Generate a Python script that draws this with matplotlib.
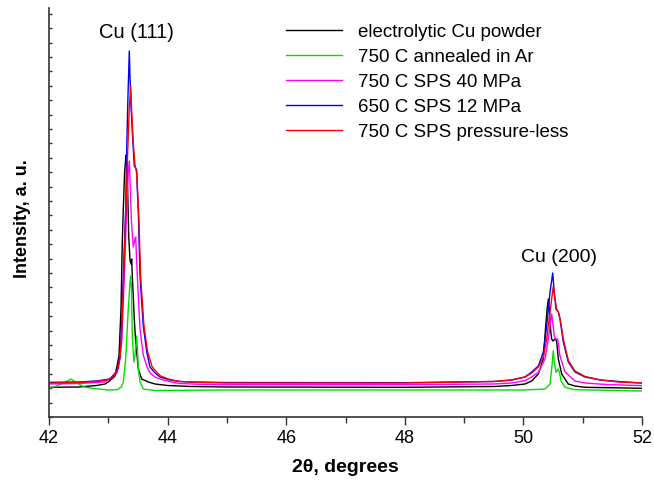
import matplotlib
matplotlib.use("Agg")
import matplotlib.pyplot as plt
from matplotlib.ticker import MultipleLocator, NullFormatter

plt.rcParams['font.family'] = ['Liberation Sans', 'DejaVu Sans']

# XRD patterns: 2-theta (degrees) and intensity (a.u.)
black_x = [42.0, 42.5, 42.8, 42.944, 43.0, 43.113, 43.18, 43.214, 43.236, 43.253,
           43.275, 43.298, 43.31, 43.327, 43.345, 43.366, 43.383, 43.395, 43.405,
           43.422, 43.438, 43.462, 43.479, 43.506, 43.563, 43.675, 43.788, 44.0,
           44.4, 45.0, 48.0, 49.5, 49.8, 50.027, 50.14, 50.251, 50.336, 50.376,
           50.40, 50.42, 50.44, 50.462, 50.477, 50.50, 50.533, 50.55, 50.562,
           50.589, 50.646, 50.757, 50.87, 51.039, 52.0]
black_y = [29.7, 30, 31.5, 33, 35, 41, 61, 108, 175, 208,
           245, 262, 255, 225, 180, 157, 153, 158, 140,
           120, 98, 75, 65, 48, 38, 35, 33, 31.5,
           30.5, 30, 29.7, 30.5, 31.5, 33, 36, 43, 58, 91,
           108, 118, 105, 85, 78, 76, 78, 77, 75,
           58, 43, 33, 31, 29.7, 28.7]

green_x = [42.0, 42.1, 42.25, 42.37, 42.5, 42.6, 42.75, 43.0, 43.15, 43.22,
           43.253, 43.293, 43.337, 43.366, 43.378, 43.39, 43.405, 43.43, 43.45,
           43.479, 43.49, 43.506, 43.535, 43.59, 43.788, 45.0, 48.0, 50.0,
           50.364, 50.449, 50.477, 50.504, 50.52, 50.55, 50.589, 50.61, 50.634,
           50.702, 50.87, 52.0]
green_y = [29, 30.5, 34, 38, 33, 30, 28.5, 27, 27.3, 30,
           35, 58, 108, 135, 141, 130, 81, 55, 62,
           81, 70, 48, 35, 28, 26.5, 27, 27, 27,
           28, 33, 48, 66.3, 55, 44.7, 48, 44, 36,
           29.7, 27.3, 26]

magenta_x = [42.0, 42.5, 42.8, 42.944, 43.057, 43.169, 43.226, 43.27, 43.31, 43.337,
             43.354, 43.37, 43.39, 43.422, 43.45, 43.462, 43.475, 43.506, 43.535,
             43.59, 43.648, 43.703, 43.788, 43.872, 44.04, 44.2, 44.5, 45.0, 48.0,
             49.5, 49.8, 50.027, 50.14, 50.251, 50.364, 50.42, 50.477, 50.50,
             50.521, 50.545, 50.578, 50.617, 50.702, 50.87, 51.039, 51.4, 52.0]
magenta_y = [33, 33.5, 34.5, 35, 40, 48, 75, 141, 208, 245,
             256, 230, 195, 170, 178, 180, 160, 121, 88,
             62, 51, 44, 40, 38, 35.3, 33.5, 32.8, 32.3, 32.3,
             33, 34, 36.3, 40, 44.7, 58, 78, 103, 92,
             81, 78, 78, 61, 45, 36, 34, 32.5, 31.3]

blue_x = [42.0, 42.5, 42.8, 43.029, 43.142, 43.197, 43.226, 43.253, 43.293, 43.31,
          43.327, 43.354, 43.366, 43.383, 43.41, 43.438, 43.462, 43.479, 43.489,
          43.506, 43.535, 43.59, 43.648, 43.703, 43.788, 43.872, 44.04, 44.209,
          44.378, 45.0, 48.0, 49.5, 49.8, 50.027, 50.14, 50.251, 50.336, 50.393,
          50.449, 50.494, 50.52, 50.55, 50.589, 50.617, 50.673, 50.757, 50.87,
          51.039, 51.3, 51.6, 52.0]
blue_y = [34.7, 35, 36, 38, 45, 61, 91, 141, 208, 265,
          311, 366, 340, 311, 280, 251, 249, 247, 228,
          205, 141, 91, 65, 50, 44, 40, 37, 35.5,
          35, 34.5, 34.3, 35.5, 37, 40, 45, 51, 65, 91,
          124.7, 144, 125, 108, 105, 98, 75, 55, 45,
          40, 37, 35.5, 34]

red_x = [42.0, 42.5, 42.8, 43.029, 43.142, 43.197, 43.226, 43.253, 43.293, 43.327,
         43.354, 43.378, 43.395, 43.42, 43.45, 43.475, 43.495, 43.515, 43.545,
         43.6, 43.66, 43.74, 43.8, 43.88, 44.04, 44.21, 44.38, 45.0, 48.0,
         49.5, 49.8, 50.027, 50.14, 50.251, 50.336, 50.393, 50.449, 50.504,
         50.533, 50.56, 50.589, 50.62, 50.68, 50.76, 50.87, 51.04, 51.3, 51.6, 52.0]
red_y = [34, 34.5, 35.5, 37.5, 44, 58, 85, 130, 200, 265,
         310, 331, 305, 275, 252, 245, 225, 200, 141,
         92, 66, 50, 46, 41, 37.5, 35.5, 35, 34, 34,
         35.5, 37, 40, 44, 50, 60, 78, 105, 131,
         118, 108, 105, 98, 76, 56, 46, 40.5, 37, 35, 34]

labels = ["electrolytic Cu powder", "750 C annealed in Ar", "750 C SPS 40 MPa",
          "650 C SPS 12 MPa", "750 C SPS pressure-less"]
colors = ["black", "#00e000", "#ff00ff", "#0000ff", "#ff0000"]

fig = plt.figure(figsize=(6.54, 4.81), dpi=100)
ax = fig.add_axes([49 / 654, 63 / 481, 593 / 654, 409.5 / 481])

series = [(black_x, black_y), (green_x, green_y), (magenta_x, magenta_y),
          (blue_x, blue_y), (red_x, red_y)]
for (xs, ys), lab, col in zip(series, labels, colors):
    ax.plot(xs, ys, color=col, lw=1.0, label=lab)

ax.set_xlim(42, 52)
ax.set_ylim(0, 409.5)

ax.spines['top'].set_visible(False)
ax.spines['right'].set_visible(False)
for s in ['left', 'bottom']:
    ax.spines[s].set_color('#333333')
    ax.spines[s].set_linewidth(1.2)

ax.xaxis.set_major_locator(MultipleLocator(2))
ax.xaxis.set_minor_locator(MultipleLocator(1))
ax.tick_params(axis='x', which='major', direction='out', length=6, width=1,
               labelsize=13, pad=3, color='#333333')
ax.tick_params(axis='x', which='minor', direction='out', length=4, width=1,
               color='#333333')
ax.yaxis.set_major_locator(MultipleLocator(14.4))
ax.yaxis.set_major_formatter(NullFormatter())
ax.tick_params(axis='y', which='major', direction='in', length=2, width=1,
               color='#333333')

ax.set_xlabel("2θ, degrees", fontsize=14, fontweight='bold')
ax.xaxis.set_label_coords(0.5, -0.1)
ax.set_ylabel("Intensity, a. u.", fontsize=13, fontweight='bold')
ax.yaxis.set_label_coords(-0.031, 0.488)

ax.text(43.47, 386, "Cu (111)", fontsize=14.5, ha='center', va='center')
ax.text(50.60, 160, "Cu (200)", fontsize=14, ha='center', va='center')

ax.legend(loc='upper left', bbox_to_anchor=(0.4, 0.962), frameon=False,
          fontsize=13.5, handlelength=3.0, handletextpad=0.85, labelspacing=0.42,
          borderpad=0, borderaxespad=0)

fig.savefig("out.png", dpi=100)
